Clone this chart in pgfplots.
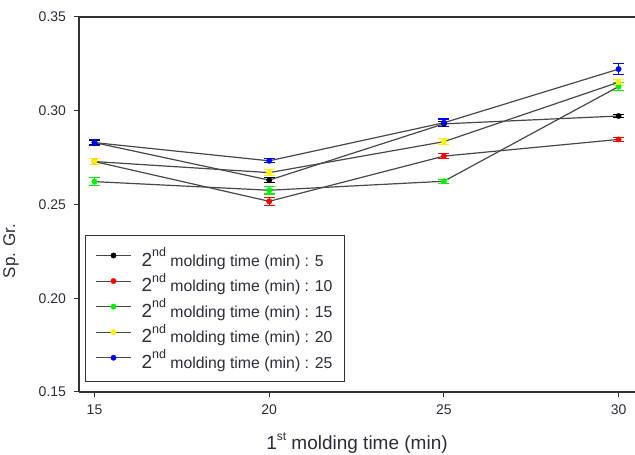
\documentclass[border=0pt]{standalone}
\usepackage{fontspec}
\setmainfont{Liberation Sans}
\usepackage{pgfplots}
\usepackage{pgfplotstable}
\pgfplotsset{compat=1.18}

\definecolor{txt}{RGB}{45,45,58}
\definecolor{ln}{RGB}{72,72,72}
\definecolor{axl}{RGB}{50,50,50}
\definecolor{cblack}{RGB}{0,0,0}
\definecolor{cred}{RGB}{255,0,0}
\definecolor{cgreen}{RGB}{0,240,0}
\definecolor{cyellow}{RGB}{255,240,0}
\definecolor{cblue}{RGB}{0,0,255}

% specific gravity vs. 1st molding time, one table per 2nd molding time
\pgfplotstableread{
x y e
15 0.2830 0.0010
20 0.2630 0.0015
25 0.2930 0.0015
30 0.2972 0.0010
}\tfive
\pgfplotstableread{
x y e
15 0.2729 0.0015
20 0.2517 0.0020
25 0.2758 0.0015
30 0.2847 0.0010
}\tten
\pgfplotstableread{
x y e
15 0.2622 0.0020
20 0.2576 0.0020
25 0.2624 0.0010
30 0.3129 0.0020
}\tfifteen
\pgfplotstableread{
x y e
15 0.2729 0.0015
20 0.2670 0.0015
25 0.2835 0.0015
30 0.3152 0.0015
}\ttwenty
\pgfplotstableread{
x y e
15 0.2830 0.0015
20 0.2733 0.0010
25 0.2936 0.0020
30 0.3222 0.0030
}\ttwentyfive

\newcommand{\entry}[1]{{\fontsize{19}{19}\selectfont 2}\raisebox{9.5pt}{\fontsize{12.5}{12.5}\selectfont nd} molding time (min) : #1}

\pgfplotsset{
  series/.style={
    draw=ln, line width=1.2pt,
    mark=*, mark size=2.7pt,
    mark options={draw=#1, fill=#1, solid, line width=0.4pt},
    error bars/.cd, y dir=both, y explicit,
    error bar style={#1, line width=1.1pt},
    error mark options={rotate=90, mark size=5.5pt, #1, line width=1.1pt},
  },
}

\begin{document}
\begin{tikzpicture}[x=1pt,y=1pt]
\path[use as bounding box] (0,0) rectangle (635,455);
\begin{axis}[
  at={(79pt,63pt)}, anchor=south west,
  scale only axis, width=556pt, height=375pt,
  xmin=14.556, xmax=30.47, ymin=0.15, ymax=0.35,
  axis x line*=box, axis y line*=left,
  axis line style={axl, line width=1.1pt},
  xtick={15,20,25,30}, ytick={0.15,0.20,0.25,0.30,0.35},
  xtick pos=bottom, ytick pos=left, tick align=outside,
  major tick length=5.5pt,
  tick style={axl, line width=1pt},
  /pgf/number format/assume math mode=true,
  yticklabel style={/pgf/number format/fixed, /pgf/number format/fixed zerofill, /pgf/number format/precision=2},
  ticklabel style={font=\fontsize{14}{14}\selectfont, text=txt},
  xticklabel style={yshift=-4pt},
  yticklabel style={xshift=-4pt},
  clip=false,
  legend cell align=left,
  legend style={
    at={(axis description cs:0.0108,0.4187)}, anchor=north west,
    draw=axl, line width=1pt,
    font=\fontsize{15.8}{15.8}\selectfont, text=txt,
    inner xsep=10pt, inner ysep=12pt, row sep=5.5pt,
    nodes={inner ysep=0pt},
    /tikz/every odd column/.append style={column sep=8pt},
  },
  legend image code/.code={
    \draw[mark repeat=2, mark phase=2, line width=1pt]
      plot coordinates {(0pt,2pt) (17.5pt,2pt) (35pt,2pt)};
  },
]
\addplot+[series=cblack] table[x=x, y=y, y error=e] {\tfive};
\addlegendentry{\entry{5}}
\addplot+[series=cred] table[x=x, y=y, y error=e] {\tten};
\addlegendentry{\entry{10}}
\addplot+[series=cgreen] table[x=x, y=y, y error=e] {\tfifteen};
\addlegendentry{\entry{15}}
\addplot+[series=cyellow] table[x=x, y=y, y error=e] {\ttwenty};
\addlegendentry{\entry{20}}
\addplot+[series=cblue] table[x=x, y=y, y error=e] {\ttwentyfive};
\addlegendentry{\entry{25}}
\end{axis}
\node[anchor=base, font=\fontsize{19}{19}\selectfont, text=txt] at (357,5)
  {1\raisebox{9pt}{\fontsize{12}{12}\selectfont st} molding time (min)};
\node[rotate=90, font=\fontsize{17}{17}\selectfont, text=txt] at (11,204) {Sp. Gr.};
\end{tikzpicture}
\end{document}
